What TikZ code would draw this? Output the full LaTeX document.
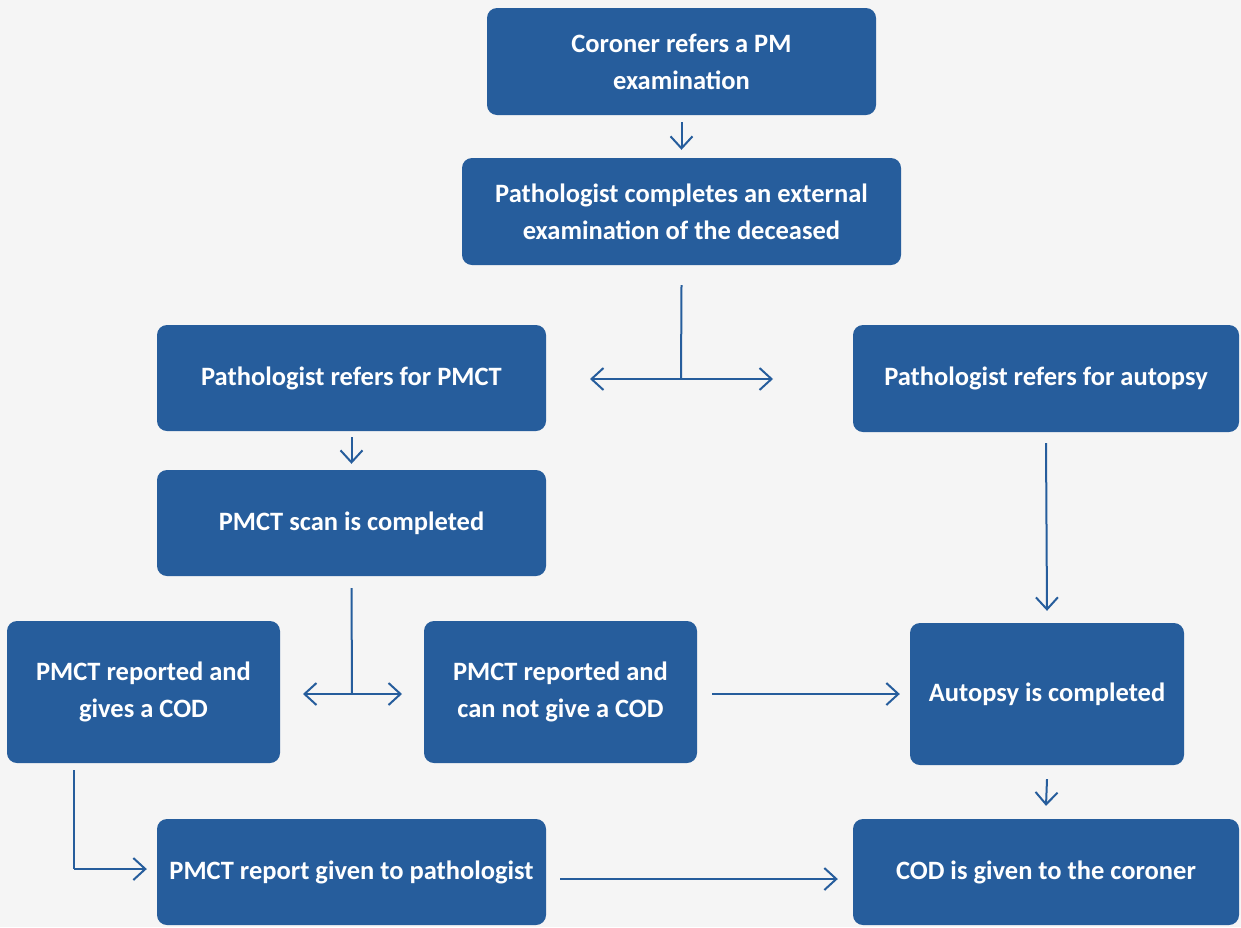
\documentclass[tikz,border=0pt]{standalone}
\usepackage{fontspec}
\setmainfont{Carlito}
\usetikzlibrary{arrows.meta}
\definecolor{boxblue}{RGB}{38,93,156}
\definecolor{bg}{RGB}{245,245,245}
\tikzset{
  box/.style={draw=none, fill=boxblue, rounded corners=10pt, text=white,
    font=\fontsize{26.5}{37}\selectfont\bfseries, align=center, inner sep=0pt},
  conn/.style={draw=boxblue, line width=2pt, -{Straight Barb[length=12pt,width=22pt,line width=2pt]}},
  line/.style={draw=boxblue, line width=2pt}
}
\begin{document}
\begin{tikzpicture}[x=1pt,y=-1pt]
\fill[bg] (0,0) rectangle (1241,927);
\useasboundingbox (0,0) rectangle (1241,927);
\node[box, minimum width=389pt, minimum height=107pt] (b1) at (681.5,61.5) {Coroner refers a PM\\examination};
\node[box, minimum width=439pt, minimum height=107pt] (b2) at (681.5,211.5) {Pathologist completes an external\\examination of the deceased};
\node[box, minimum width=389pt, minimum height=106pt] (b3) at (351.5,378) {Pathologist refers for PMCT};
\node[box, minimum width=386pt, minimum height=107pt] (b4) at (1046,378.5) {Pathologist refers for autopsy};
\node[box, minimum width=389pt, minimum height=106pt] (b5) at (351.5,523) {PMCT scan is completed};
\node[box, minimum width=273pt, minimum height=142pt] (b6) at (143.5,692) {PMCT reported and\\gives a COD};
\node[box, minimum width=273pt, minimum height=142pt] (b7) at (560.5,692) {PMCT reported and\\can not give a COD};
\node[box, minimum width=274pt, minimum height=142pt] (b8) at (1047,694) {Autopsy is completed};
\node[box, minimum width=389pt, minimum height=106pt] (b9) at (351.5,872) {PMCT report given to pathologist};
\node[box, minimum width=386pt, minimum height=106pt] (b10) at (1046,872) {COD is given to the coroner};

\coordinate (t1) at (681,379);
\coordinate (t1l) at (590,379);
\coordinate (t1r) at (773,379);
\coordinate (t2) at (352,694);
\coordinate (t2l) at (303,694);
\coordinate (t2r) at (402,694);
\coordinate (e1) at (74,869);

\draw[conn] ([yshift=-7pt]b1.south) -- ([yshift=8pt]b2.north);
\draw[line] ([yshift=-20pt]b2.south) -- (t1);
\draw[conn] (t1) -- (t1l);
\draw[conn] (t1) -- (t1r);
\draw[conn] ([yshift=-6pt]b3.south) -- ([yshift=6pt]b5.north);
\draw[conn] ([yshift=-11pt]b4.south) -- ([yshift=12pt]b8.north);
\draw[line] ([yshift=-12pt]b5.south) -- (t2);
\draw[conn] (t2) -- (t2l);
\draw[conn] (t2) -- (t2r);
\draw[conn] ([xshift=15pt]b7.east |- t2) -- ([xshift=-10pt]b8.west |- t2);
\draw[conn] ([yshift=-14pt]b8.south) -- ([yshift=13pt]b10.north);
\draw[line] ([yshift=-7pt]b6.south -| e1) -- (e1);
\draw[conn] (e1) -- ([xshift=-10pt]b9.west |- e1);
\draw[conn] ([xshift=14pt]b9.east |- 0,879) -- ([xshift=-15pt]b10.west |- 0,879);
\end{tikzpicture}
\end{document}
